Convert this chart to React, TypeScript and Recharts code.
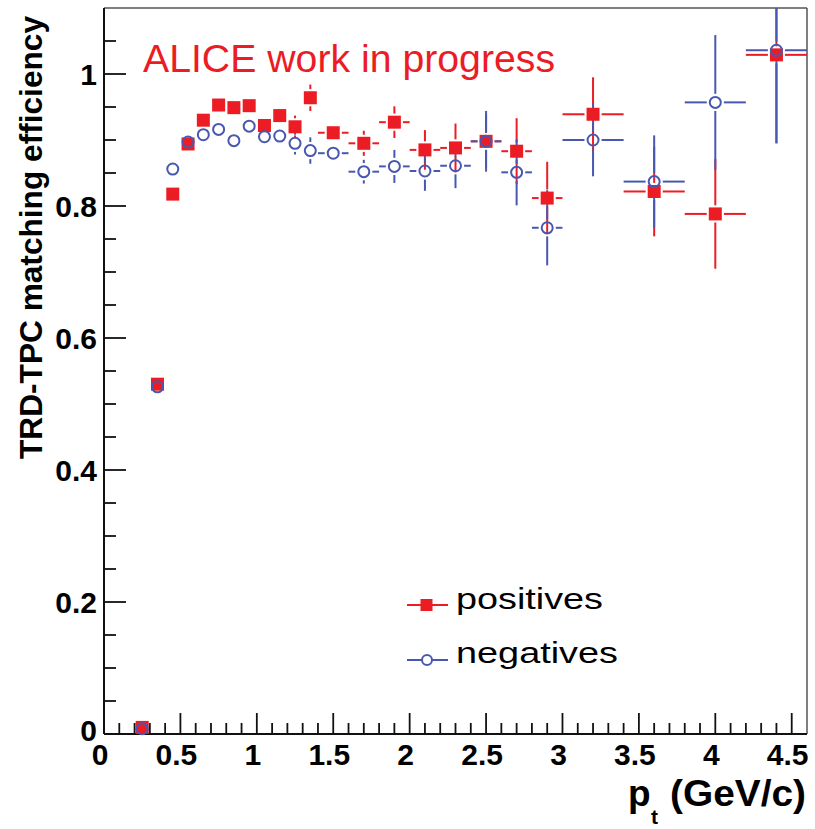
import React from "react";
import { Customized, ReferenceLine, Scatter, ScatterChart, XAxis, YAxis } from "recharts";

const RED = "#ec1c24";
const BLUE = "#4858b0";
const AXIS = "#111";
const FRAME = "#555";
const FONT = '"Liberation Sans", Arial, Helvetica, sans-serif';

// pt bin centres (GeV/c) and bin half widths
const PT = [0.25, 0.35, 0.45, 0.55, 0.65, 0.75, 0.85, 0.95, 1.05, 1.15, 1.25, 1.35, 1.5, 1.7, 1.9, 2.1, 2.3, 2.5, 2.7, 2.9, 3.2, 3.6, 4.0, 4.4];
const PT_HALF = [0.05, 0.05, 0.05, 0.05, 0.05, 0.05, 0.05, 0.05, 0.05, 0.05, 0.05, 0.05, 0.1, 0.1, 0.1, 0.1, 0.1, 0.1, 0.1, 0.1, 0.2, 0.2, 0.2, 0.2];

// matching efficiency and stat. error, positive tracks
const POS_EFF = [0.01, 0.53, 0.818, 0.894, 0.93, 0.953, 0.949, 0.952, 0.922, 0.937, 0.92, 0.964, 0.911, 0.895, 0.927, 0.885, 0.888, 0.898, 0.883, 0.812, 0.939, 0.822, 0.788, 1.029];
const POS_ERR = [0.002, 0.005, 0.006, 0.007, 0.008, 0.009, 0.01, 0.011, 0.012, 0.013, 0.017, 0.02, 0.012, 0.019, 0.024, 0.03, 0.037, 0.04, 0.05, 0.055, 0.056, 0.068, 0.083, 0.134];

// matching efficiency and stat. error, negative tracks
const NEG_EFF = [0.008, 0.526, 0.856, 0.897, 0.908, 0.916, 0.899, 0.921, 0.905, 0.906, 0.895, 0.884, 0.88, 0.852, 0.86, 0.853, 0.861, 0.898, 0.851, 0.767, 0.9, 0.837, 0.957, 1.036];
const NEG_ERR = [0.002, 0.005, 0.006, 0.007, 0.008, 0.009, 0.01, 0.011, 0.012, 0.013, 0.017, 0.02, 0.012, 0.018, 0.025, 0.03, 0.034, 0.046, 0.05, 0.057, 0.055, 0.07, 0.102, 0.141];

const X_MAX = 4.6;
const Y_MAX = 1.1;
const X_TICKS = Array.from({ length: 46 }, (_, i) => +(i * 0.1).toFixed(1));
const Y_TICKS = Array.from({ length: 22 }, (_, i) => +(i * 0.05).toFixed(2));

// error bars leave a gap around the marker (in axis units)
const GAP_X = 0.056;
const GAP_Y = 0.013;

const positives = PT.map((pt, i) => ({ pt, eff: POS_EFF[i] }));
const negatives = PT.map((pt, i) => ({ pt, eff: NEG_EFF[i] }));

type Seg = [{ x: number; y: number }, { x: number; y: number }];

function errorSegments(eff: number[], err: number[]): Seg[] {
  const segs: Seg[] = [];
  PT.forEach((x, i) => {
    const y = eff[i];
    const dx = PT_HALF[i];
    const dy = err[i];
    if (dx > GAP_X) {
      segs.push([{ x: x - dx, y }, { x: x - GAP_X, y }]);
      segs.push([{ x: x + GAP_X, y }, { x: x + dx, y }]);
    }
    if (dy > GAP_Y) {
      segs.push([{ x, y: y - dy }, { x, y: y - GAP_Y }]);
      segs.push([{ x, y: y + GAP_Y }, { x, y: y + dy }]);
    }
  });
  return segs;
}

const isMajor = (v: number, step: number) => Math.abs(v / step - Math.round(v / step)) < 1e-6;

const XTick = ({ x, y, payload }: any) => {
  const v = payload.value;
  const major = isMajor(v, 0.5);
  return (
    <g>
      <line x1={x} x2={x} y1={y} y2={y - (major ? 21 : 11)} stroke={AXIS} strokeWidth={1.8} />
      {major && (
        <text x={x - 4} y={y + 31} textAnchor="middle" fontFamily={FONT} fontSize={30} fontWeight="bold" fill="#000">
          {String(v)}
        </text>
      )}
    </g>
  );
};

const YTick = ({ x, y, payload }: any) => {
  const v = payload.value;
  const major = isMajor(v, 0.2);
  // the zero label is lifted so it clears the x-axis zero
  const dy = v === 0 ? 7 : 11;
  return (
    <g>
      <line x1={x} x2={x + (major ? 22 : 12)} y1={y} y2={y} stroke={AXIS} strokeWidth={1.8} />
      {major && (
        <text x={x - 7} y={y + dy} textAnchor="end" fontFamily={FONT} fontSize={30} fontWeight="bold" fill="#000">
          {String(v)}
        </text>
      )}
    </g>
  );
};

const Square = ({ cx, cy }: any) => <rect x={cx - 6.5} y={cy - 6.5} width={13} height={13} fill={RED} />;
const Ring = ({ cx, cy }: any) => <circle cx={cx} cy={cy} r={5.5} fill="none" stroke={BLUE} strokeWidth={2} />;

const Annotations = () => (
  <g fontFamily={FONT}>
    <text x={143} y={72} fontSize={38} fill={RED} textLength={412} lengthAdjust="spacingAndGlyphs">
      ALICE work in progress
    </text>
    <text transform="translate(42,459) rotate(-90)" fontSize={32} fontWeight="bold" textLength={443} lengthAdjust="spacingAndGlyphs">
      TRD-TPC matching efficiency
    </text>
    <text x={628} y={806} fontSize={37} fontWeight="bold">p</text>
    <text x={651} y={824} fontSize={21} fontWeight="bold">t</text>
    <text x={670} y={806} fontSize={37} fontWeight="bold" textLength={136} lengthAdjust="spacingAndGlyphs">
      (GeV/c)
    </text>

    {/* legend */}
    <line x1={407} x2={448} y1={605} y2={605} stroke={RED} strokeWidth={2} />
    <rect x={420.5} y={599} width={12} height={12} fill={RED} />
    <text x={456} y={609} fontSize={30} textLength={147} lengthAdjust="spacingAndGlyphs">positives</text>
    <line x1={407} x2={448} y1={660} y2={660} stroke={BLUE} strokeWidth={2} />
    <circle cx={427} cy={660} r={5} fill="#fff" stroke={BLUE} strokeWidth={2} />
    <text x={456} y={663} fontSize={30} textLength={162} lengthAdjust="spacingAndGlyphs">negatives</text>
  </g>
);

export default function App() {
  return (
    <div style={{ position: "absolute", left: 0, top: 0, width: 815, height: 829, background: "#fff" }}>
      <ScatterChart width={815} height={829} margin={{ top: 8, right: 8, bottom: 45, left: 44 }}>
        <XAxis
          type="number"
          dataKey="pt"
          domain={[0, X_MAX]}
          ticks={X_TICKS}
          interval={0}
          tickSize={0}
          tickMargin={0}
          tickLine={false}
          axisLine={{ stroke: AXIS, strokeWidth: 2 }}
          tick={<XTick />}
          height={50}
        />
        <YAxis
          type="number"
          dataKey="eff"
          domain={[0, Y_MAX]}
          ticks={Y_TICKS}
          interval={0}
          tickSize={0}
          tickMargin={0}
          tickLine={false}
          axisLine={{ stroke: AXIS, strokeWidth: 2 }}
          tick={<YTick />}
          width={60}
        />
        <ReferenceLine y={Y_MAX} stroke={FRAME} strokeWidth={1.5} />
        <ReferenceLine x={X_MAX} stroke={FRAME} strokeWidth={1.5} />

        {errorSegments(POS_EFF, POS_ERR).map((s, k) => (
          <ReferenceLine key={`pe${k}`} segment={s} stroke={RED} strokeWidth={2} ifOverflow="hidden" />
        ))}
        <Scatter name="positives" data={positives} shape={<Square />} isAnimationActive={false} />

        {errorSegments(NEG_EFF, NEG_ERR).map((s, k) => (
          <ReferenceLine key={`ne${k}`} segment={s} stroke={BLUE} strokeWidth={2} ifOverflow="hidden" />
        ))}
        <Scatter name="negatives" data={negatives} shape={<Ring />} isAnimationActive={false} />

        <Customized component={Annotations} />
      </ScatterChart>
    </div>
  );
}
